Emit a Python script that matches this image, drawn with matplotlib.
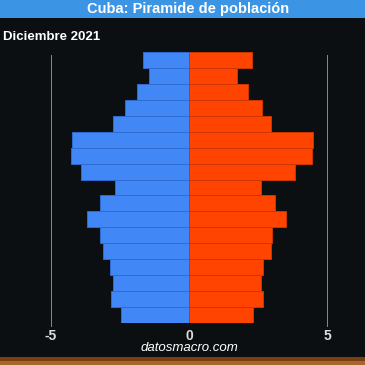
import matplotlib
matplotlib.use("Agg")
import matplotlib.pyplot as plt
from matplotlib.patches import Rectangle

# age groups, bottom to top
ages = ["0-4", "5-9", "10-14", "15-19", "20-24", "25-29", "30-34", "35-39",
        "40-44", "45-49", "50-54", "55-59", "60-64", "65-69", "70-74",
        "75-79", "80+"]
# % of population
hombres = [2.46, 2.84, 2.74, 2.86, 3.13, 3.22, 3.71, 3.22, 2.68, 3.92,
           4.29, 4.25, 2.76, 2.32, 1.90, 1.44, 1.66]
mujeres = [2.33, 2.67, 2.61, 2.67, 2.97, 3.02, 3.51, 3.12, 2.61, 3.84,
           4.45, 4.50, 2.97, 2.63, 2.15, 1.73, 2.27]
xticks = [-5, 0, 5]
xtick_labels = ["-5", "0", "5"]

title = "Cuba: Piramide de población"
subtitle = "Diciembre 2021"
source = "datosmacro.com"

BG = "#0c0f11"
W = H = 365

plt.rcParams["font.family"] = ["Liberation Sans", "DejaVu Sans"]

fig = plt.figure(figsize=(W / 100, H / 100), dpi=100, facecolor=BG)

# header band and footer stripe
fig.patches.append(Rectangle((0, 1 - 18 / H), 1, 18 / H, transform=fig.transFigure,
                             facecolor="#3b95e4", edgecolor="none", zorder=0))
fig.patches.append(Rectangle((0, 4 / H), 1, 4 / H, transform=fig.transFigure,
                             facecolor="#7b3d12", edgecolor="none", zorder=0))
fig.patches.append(Rectangle((0, 0), 1, 4 / H, transform=fig.transFigure,
                             facecolor="#a8652c", edgecolor="none", zorder=0))

fig.text(188 / W, 1 - 9 / H, title, color="white", fontsize=10.5, fontweight="bold",
         ha="center", va="center")
fig.text(3 / W, 1 - 37 / H, subtitle, color="white", fontsize=9.5, fontweight="bold",
         ha="left", va="center")
fig.text(189 / W, 1 - 348 / H, source, color="white", fontsize=9.5, style="italic",
         ha="center", va="center")

ax = fig.add_axes([51 / W, 1 - 323 / H, 276 / W, 271 / H])
ax.set_facecolor(BG)
y = list(range(len(ages)))
ax.barh(y, [-v for v in hombres], height=1.0, color="#4187f6",
        edgecolor="#2f6bd0", linewidth=0.7, zorder=2)
ax.barh(y, mujeres, height=1.0, color="#ff4300",
        edgecolor="#cc3600", linewidth=0.7, zorder=2)
for gx in (-5, 5):
    ax.axvline(gx, ymin=-0.01, ymax=0.99, color="#8a8a8a", linewidth=0.7,
               zorder=1, clip_on=False)
ax.set_xlim(-5, 5)
ax.set_ylim(-0.5, len(ages) - 0.5)
for s in ax.spines.values():
    s.set_visible(False)
ax.set_yticks([])
ax.set_xticks(xticks)
ax.set_xticklabels(xtick_labels, color="#dcdcdc", fontsize=10, fontweight="bold")
ax.tick_params(axis="x", length=0, pad=4)

fig.savefig("out.png", dpi=100, facecolor=BG)
